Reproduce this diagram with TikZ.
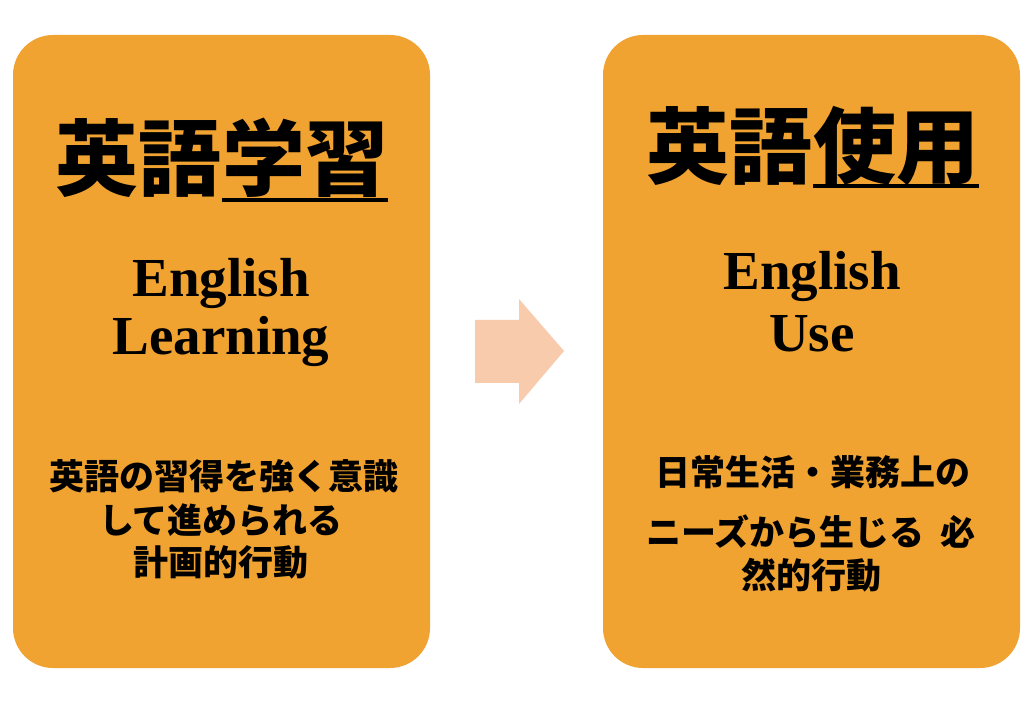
\documentclass[tikz,border=0pt]{standalone}
\usepackage{fontspec}
\setmainfont{Liberation Serif}
\newfontfamily\jpfont{Noto Sans CJK JP}
\usepackage{tikz}
\usetikzlibrary{calc}

\definecolor{boxorange}{HTML}{F0A330}
\definecolor{arrowpeach}{HTML}{F8CBAD}

\tikzset{
  box/.style={fill=boxorange, rounded corners=40pt, inner sep=0pt,
    minimum width=417pt, minimum height=633pt},
  title/.style={inner sep=0pt, font=\jpfont\bfseries\fontsize{83}{90}\selectfont},
  engl/.style={inner sep=0pt, anchor=base, font=\bfseries\fontsize{55}{60}\selectfont},
  desc/.style={inner sep=0pt, anchor=base, font=\jpfont\bfseries\fontsize{35}{40}\selectfont}
}

\begin{document}
\begin{tikzpicture}[x=1pt,y=-1pt]
    \useasboundingbox (0,0) rectangle (1034,703);

    % boxes
    \node[box] (Lbox) at (221.5,351.5) {};
    \node[box] (Rbox) at (811.5,351.5) {};

    % arrow between the boxes
    \fill[arrowpeach] (475,320) -- (519,320) -- (519,299) -- (564,351)
      -- (519,404) -- (519,383) -- (475,383) -- cycle;

    % left box
    \node[title, anchor=base east] (Lt1) at (222,190) {英語};
    \node[title, anchor=base west] (Lt2) at (222,190) {学習};
    \draw[line width=4pt] ([yshift=-10pt]Lt2.base west) -- ([yshift=-10pt]Lt2.base east);
    \node[engl] (Le1) at (221,297) {English};
    \node[engl] (Le2) at (221,355) {Learning};
    \node[desc] (Ld1) at (224,489) {英語の習得を強く意識};
    \node[desc] (Ld2) at (221,533) {して進められる};
    \node[desc] (Ld3) at (221,575) {計画的行動};

    % right box
    \node[title, anchor=base east] (Rt1) at (813,178) {英語};
    \node[title, anchor=base west] (Rt2) at (813,178) {使用};
    \draw[line width=4pt] ([yshift=-8pt]Rt2.base west) -- ([yshift=-8pt]Rt2.base east);
    \node[engl] (Re1) at (812,290) {English};
    \node[engl] (Re2) at (812,352) {Use};
    \node[desc] (Rd1) at (813,485) {日常生活・業務上の};
    \node[desc] (Rd2) at (811,545) {ニーズから生じる\hspace{0.45em}必};
    \node[desc] (Rd3) at (811,588) {然的行動};
  \end{tikzpicture}
\end{document}
